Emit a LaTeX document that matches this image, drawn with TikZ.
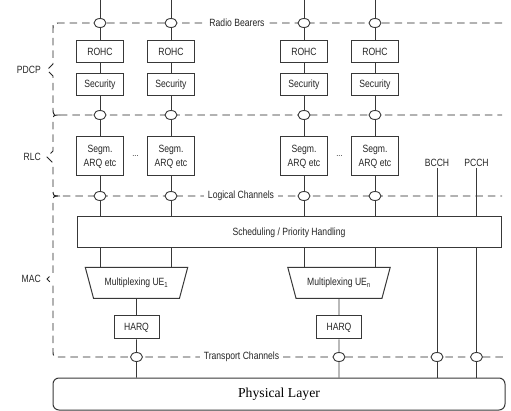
\documentclass[tikz,border=0pt]{standalone}
\usepackage{fontspec}
\setmainfont{Liberation Sans}[FakeStretch=0.82]
\newfontfamily\phyfont{Liberation Serif}
\usetikzlibrary{shapes.geometric,backgrounds}
\begin{document}
\begin{tikzpicture}[x=1pt,y=-1pt,
  line/.style={draw=black!78, line width=0.9pt},
  box/.style={draw=black!78, line width=1pt, fill=white, minimum width=47pt, minimum height=22pt, inner sep=0pt, font=\fontsize{10.5}{14}\selectfont, text=black!85},
  tallbox/.style={box, minimum height=39pt, align=center},
  hbox/.style={box, minimum width=45pt, minimum height=23pt},
  oval/.style={ellipse, draw=black!78, line width=0.9pt, fill=white, minimum width=12pt, minimum height=9pt, inner sep=0pt},
  dline/.style={draw=black!85, line width=0.95pt, dash pattern=on 7.5pt off 5pt},
  lbl/.style={font=\fontsize{10.5}{12}\selectfont, text=black!85, inner sep=1pt},
  chan/.style={lbl, fill=white, inner xsep=4pt, inner ysep=1pt},
  mux/.style={trapezium, draw=black!78, line width=1pt, fill=white, trapezium left angle=58, trapezium right angle=58, shape border rotate=180, trapezium stretches=true, minimum width=103pt, minimum height=31pt, inner sep=0pt, font=\fontsize{10.5}{12}\selectfont, text=black!85},
  dots/.style={font=\fontsize{9}{9}\selectfont, text=black!85, inner sep=0pt},
]
\useasboundingbox (0,0) rectangle (511,411);

% column positions
\foreach \n/\x in {1/100,2/171,3/304,4/375}{
  \coordinate (t\n) at (\x,0);
  \node[oval] (rb\n) at (\x,23) {};
  \node[box] (rohc\n) at (\x,52) {ROHC};
  \node[box] (sec\n) at (\x,85) {Security};
  \node[oval] (pr\n) at (\x,115) {};
  \node[tallbox] (seg\n) at (\x,156.5) {Segm.\\ARQ etc};
  \node[oval] (lc\n) at (\x,196) {};
}
\node[dots] (d1) at (135.5,156) {...};
\node[dots] (d2) at (339.5,156) {...};

\node[box, minimum width=424pt, minimum height=31pt] (sched) at (289,232.5) {Scheduling / Priority Handling};

\node[mux] (mux1) at (136.5,283) {Multiplexing UE\textsubscript{1}};
\node[mux] (mux2) at (339,283) {Multiplexing UE\textsubscript{n}};
\node[hbox] (harq1) at (136.5,327.5) {HARQ};
\node[hbox] (harq2) at (339,327.5) {HARQ};

\node[lbl] (bcch) at (437,163) {BCCH};
\node[lbl] (pcch) at (476.5,163) {PCCH};

\node[oval] (tc1) at (136.5,357) {};
\node[oval] (tc2) at (339,357) {};
\node[oval] (tc3) at (437,357) {};
\node[oval] (tc4) at (476.5,357) {};

\node[draw=black!78, line width=1pt, fill=white, rounded corners=6pt, minimum width=452pt, minimum height=32pt, font=\phyfont\fontsize{13.7}{16}\selectfont] (phy) at (279,394) {Physical Layer};

\node[chan] (rbl) at (237,23) {Radio Bearers};
\node[chan] (lcl) at (241,196) {Logical Channels};
\node[chan] (tcl) at (241.5,357) {Transport Channels};

\node[lbl, anchor=east] (pdcp) at (42,70) {PDCP};
\node[lbl, anchor=east] (rlc) at (42,157) {RLC};
\node[lbl, anchor=east] (mac) at (42,279) {MAC};

\begin{scope}[on background layer]
  % dashed braces and channel lines
  \draw[dline] (502,23) -- (59,23) .. controls (53,23) .. (53,29) -- (53,64) -- (47,70) -- (53,76) -- (53,108) .. controls (53,115) .. (60,115) -- (502,115);
  \draw[dline] (60,115) .. controls (53,115) .. (53,122) -- (53,151) -- (47,157) -- (53,163) -- (53,189) .. controls (53,196) .. (60,196) -- (502,196);
  \draw[dline] (60,196) .. controls (53,196) .. (53,203) -- (53,273) -- (47,279) -- (53,285) -- (53,350) .. controls (53,357) .. (60,357) -- (504,357);
  % column lines
  \foreach \n in {1,2,3,4}{
    \draw[line] (t\n) -- (rb\n) -- (rohc\n) -- (sec\n) -- (pr\n) -- (seg\n) -- (lc\n) -- (lc\n |- sched.north);
  }
  \foreach \n/\m in {1/1,2/1,3/2,4/2}{
    \draw[line] (lc\n |- sched.south) -- (lc\n |- mux\m.north);
  }
  \foreach \m in {1,2}{
    \draw[line] (mux\m) -- (harq\m) -- (tc\m) -- (tc\m |- phy.north);
  }
  \draw[line] (bcch) -- (tc3) -- (tc3 |- phy.north);
  \draw[line] (pcch) -- (tc4) -- (tc4 |- phy.north);
\end{scope}
\end{tikzpicture}
\end{document}
